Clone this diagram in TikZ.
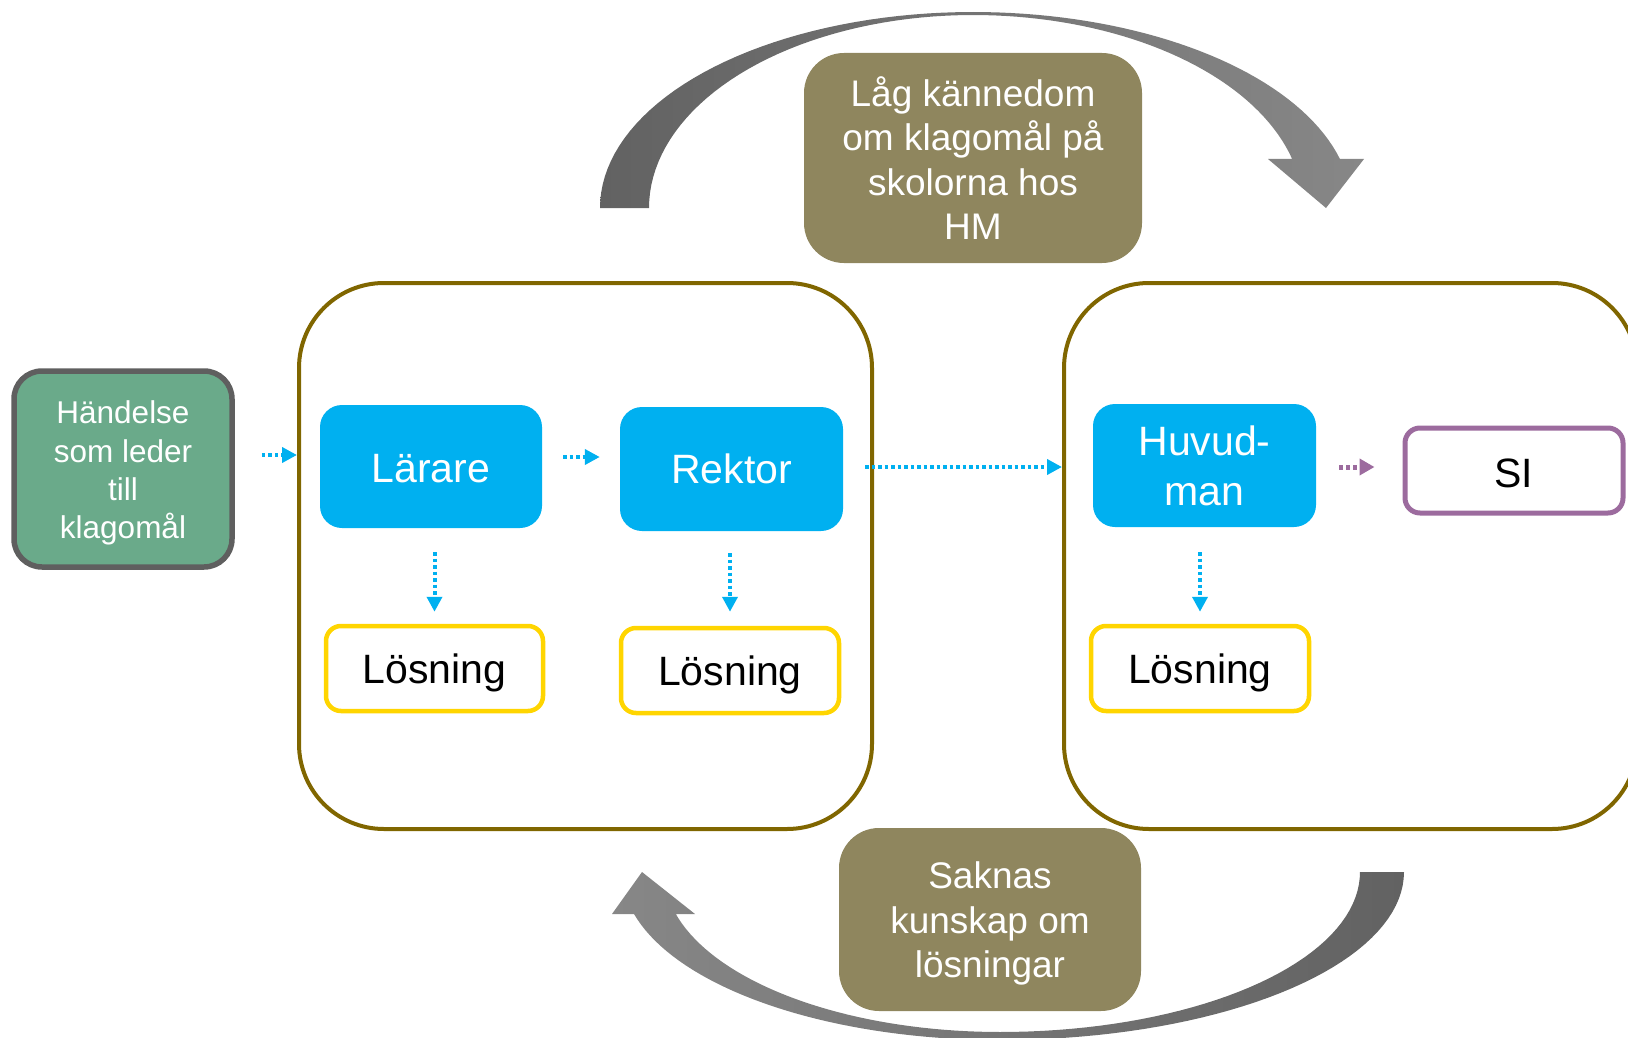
\documentclass[tikz,border=0pt]{standalone}
\usepackage{fontspec}
\setmainfont{Liberation Sans}
\usetikzlibrary{arrows.meta}
\definecolor{hmblue}{HTML}{00B0F0}
\definecolor{hmgreen}{HTML}{6AAA8A}
\definecolor{hmgray}{HTML}{5F5F5F}
\definecolor{hmolive}{HTML}{806600}
\definecolor{hmlabel}{HTML}{8F865E}
\definecolor{hmyellow}{HTML}{FFD500}
\definecolor{hmpurple}{HTML}{9C6B9E}
\definecolor{arrdark}{HTML}{626262}
\definecolor{arrlight}{HTML}{878787}
\tikzset{
  bigbox/.style={draw=hmolive, line width=4pt, rounded corners=85pt, rectangle,
    minimum width=573pt, minimum height=546pt, inner sep=0pt},
  bluebox/.style={fill=hmblue, rounded corners=22pt, rectangle, text=white,
    font=\fontsize{41}{50}\selectfont, align=center, inner sep=0pt,
    minimum width=222pt, minimum height=123pt},
  losbox/.style={draw=hmyellow, line width=4.5pt, rounded corners=15pt, rectangle,
    fill=white, font=\fontsize{41}{50}\selectfont, inner sep=0pt, text depth=0pt,
    minimum width=218pt, minimum height=85pt},
  sibox/.style={draw=hmpurple, line width=5pt, rounded corners=15pt, rectangle,
    fill=white, font=\fontsize{41}{50}\selectfont, inner sep=0pt,
    text height=33pt, text depth=0pt,
    minimum width=218pt, minimum height=85pt},
  startbox/.style={draw=hmgray, fill=hmgreen, line width=5.5pt, rounded corners=28pt,
    rectangle, inner sep=0pt, minimum width=218pt, minimum height=196pt},
  starttext/.style={text=white, font=\fontsize{31.5}{38.2}\selectfont,
    align=center, inner sep=0pt},
  labelbox/.style={fill=hmlabel, rounded corners=40pt, rectangle, inner sep=0pt},
  labeltext/.style={text=white, font=\fontsize{37}{44.6}\selectfont,
    align=center, inner sep=0pt},
  barrow/.style={draw=hmblue, line width=4pt, dash pattern=on 3.5pt off 3pt,
    -{Triangle[length=15pt,width=15pt]}},
  parrow/.style={draw=hmpurple, line width=5pt, dash pattern=on 4pt off 3pt,
    -{Triangle[length=15pt,width=16pt]}},
}
\begin{document}
\begin{tikzpicture}[x=1pt,y=-1pt]
\useasboundingbox (0,0) rectangle (1628,1038);

% curved arrows
\shade[left color=arrdark, right color=arrlight]
  plot[domain=180:270, samples=40] ({973+373*cos(\x)}, {208+196*sin(\x)})
  -- plot[domain=270:345.52, samples=40] ({973+379*cos(\x)}, {208+196*sin(\x)})
  -- (1364,159) -- (1326,208) -- (1268,159) -- (1292,159)
  -- plot[domain=345.3:270, samples=40] ({973+330*cos(\x)}, {208+193*sin(\x)})
  -- plot[domain=270:180, samples=40] ({973+324*cos(\x)}, {208+193*sin(\x)})
  -- cycle;
\shade[left color=arrlight, right color=arrdark]
  plot[domain=0:90, samples=40] ({1000+404*cos(\x)}, {872+168*sin(\x)})
  -- plot[domain=90:165.52, samples=40] ({1000+378*cos(\x)}, {872+168*sin(\x)})
  -- (612,914) -- (642,872) -- (695,914) -- (676,914)
  -- plot[domain=164.78:90, samples=40] ({1000+336*cos(\x)}, {872+160*sin(\x)})
  -- plot[domain=90:0, samples=40] ({1000+360*cos(\x)}, {872+160*sin(\x)})
  -- cycle;

% labels
\node[labelbox, minimum width=338pt, minimum height=210pt] (top) at (973,158) {};
\node[labeltext] (toptext) at (top.center)
  {Låg kännedom\\om klagomål på\\skolorna hos\\HM};
\node[labelbox, minimum width=302pt, minimum height=183pt] (bottom) at (990,919.5) {};
\node[labeltext] (bottomtext) at ([yshift=-4pt]bottom.center)
  {Saknas\\kunskap om\\lösningar};

% big boxes
\node[bigbox] (bigL) at (585.5,556) {};
\node[bigbox] (bigR) at (1350.5,556) {};

% start
\node[startbox] (hand) at (123,469) {};
\node[starttext] (handtext) at ([yshift=-4pt]hand.center)
  {Händelse\\som leder\\till\\klagomål};

% blue boxes
\node[bluebox, text height=32pt, text depth=0pt] (lar) at (431,466.5) {Lärare};
\node[bluebox, minimum width=223pt, minimum height=124pt] (rek) at (731.5,469) {Rektor};
\node[bluebox, minimum width=223pt] (huv) at (1204.5,465.5) {Huvud-\\man};

% solution boxes
\node[losbox, minimum width=217pt] (los1) at (434.5,668.5) {Lösning};
\node[losbox] (los2) at (730,670.5) {Lösning};
\node[losbox] (los3) at (1200,668.5) {Lösning};
\node[sibox] (si) at (1514,470.5) {SI};

% connectors
\coordinate (a1) at ([yshift=14pt]hand.east);
\draw[barrow, shorten <=27pt] (a1) -- (a1 -| bigL.west);
\coordinate (a2) at ([yshift=9.5pt]lar.east);
\draw[barrow, shorten <=21pt, shorten >=20pt] (a2) -- (a2 -| rek.west);
\coordinate (a3) at ([yshift=2pt]rek.east);
\draw[barrow, shorten <=22pt] (a3) -- (a3 -| bigR.west);
\coordinate (a4) at ([yshift=-1.5pt]huv.east);
\draw[parrow, shorten <=23pt, shorten >=28pt] (a4) -- (a4 -| si.west);
\draw[barrow, shorten <=24pt, shorten >=12pt] (los1.north |- lar.south) -- (los1.north);
\draw[barrow, shorten <=22pt, shorten >=14pt] (los2.north |- rek.south) -- (los2.north);
\draw[barrow, shorten <=25pt, shorten >=12pt] (los3.north |- huv.south) -- (los3.north);
\end{tikzpicture}
\end{document}
